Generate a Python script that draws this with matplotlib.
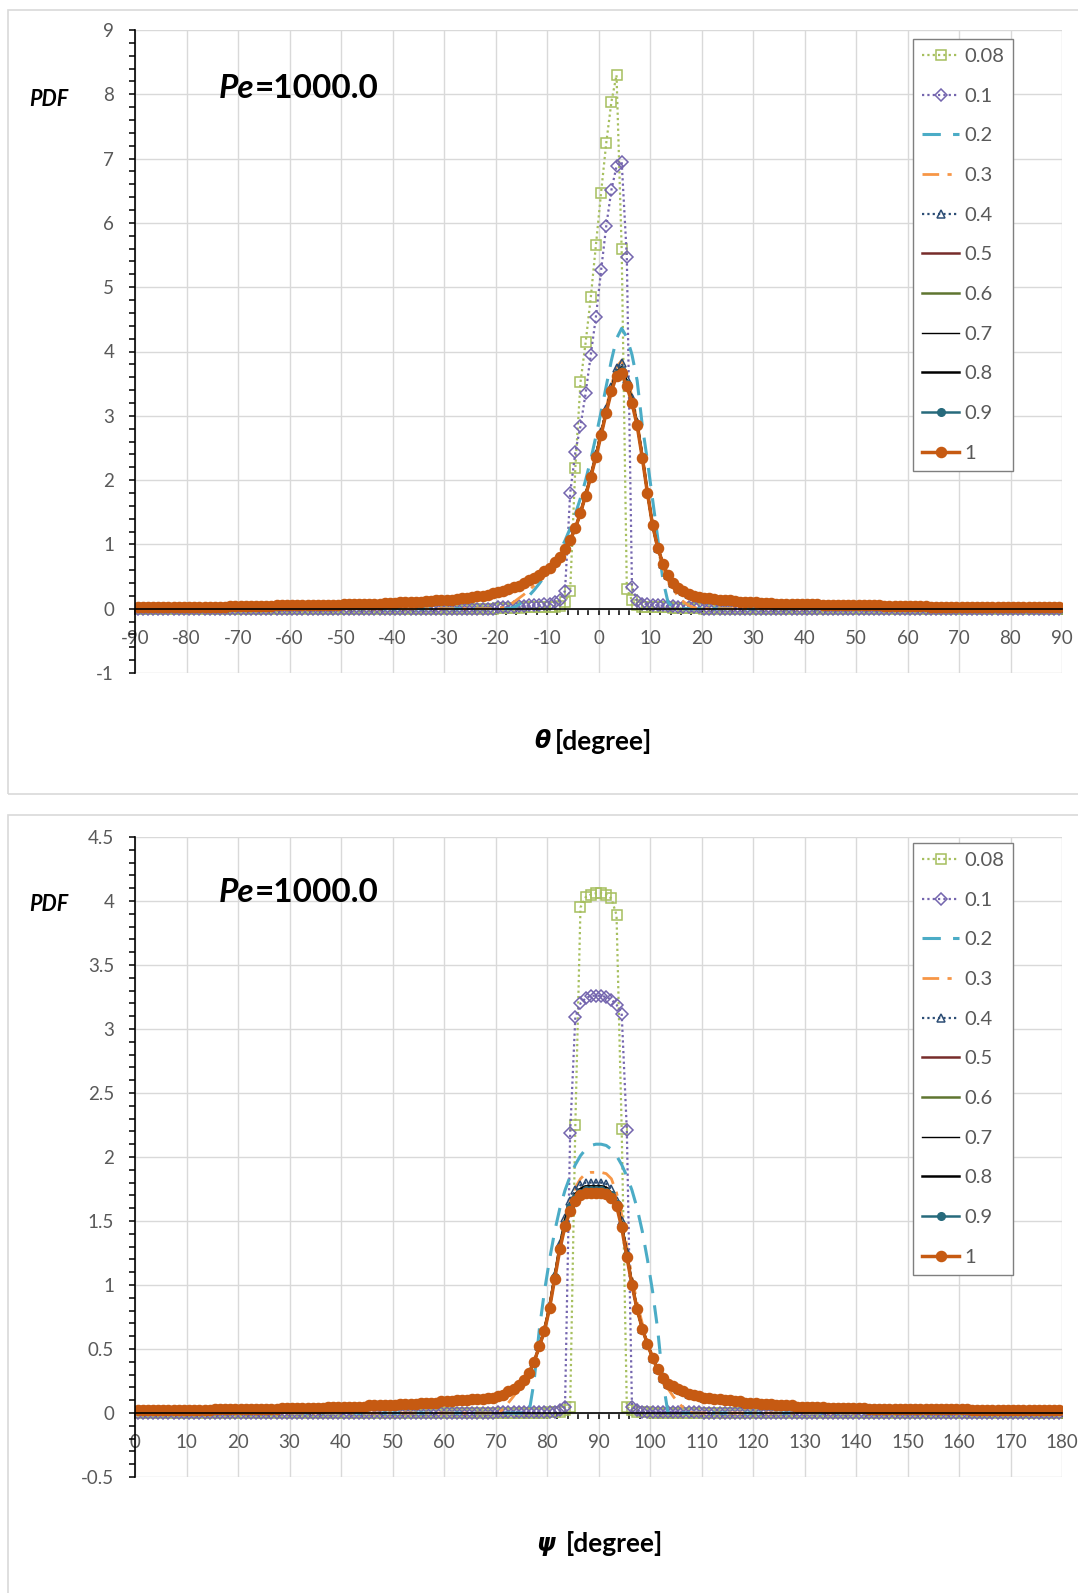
import numpy as np
import matplotlib
matplotlib.use("Agg")
import matplotlib.pyplot as plt
from matplotlib.patches import Rectangle
from matplotlib.ticker import MultipleLocator, FuncFormatter

W, H = 1078, 1593
plt.rcParams['font.family'] = ['Lato', 'DejaVu Sans']

labels = ['0.08', '0.1', '0.2', '0.3', '0.4', '0.5', '0.6', '0.7', '0.8', '0.9', '1']

# angle grids (bin centres)
theta = np.arange(-89.5, 90.0, 1.0)
psi = np.arange(0.5, 180.0, 1.0)

zeros70 = [0.0] * 70

# ---------------- theta panel: tails (-89.5..-20.5, 20.5..89.5) ----------------
th_tail_left = [0.03, 0.03, 0.03, 0.03, 0.03, 0.03, 0.03, 0.03, 0.03, 0.03,
                0.03, 0.03, 0.03, 0.03, 0.03, 0.03, 0.03, 0.03, 0.04, 0.04,
                0.04, 0.04, 0.04, 0.04, 0.04, 0.04, 0.04, 0.05, 0.05, 0.05,
                0.05, 0.05, 0.05, 0.05, 0.06, 0.06, 0.06, 0.06, 0.06, 0.06,
                0.07, 0.07, 0.07, 0.07, 0.08, 0.08, 0.08, 0.08, 0.09, 0.09,
                0.09, 0.10, 0.10, 0.10, 0.11, 0.11, 0.12, 0.12, 0.13, 0.13,
                0.14, 0.14, 0.15, 0.16, 0.17, 0.18, 0.19, 0.20, 0.22, 0.24]
th_tail_right = [0.17, 0.16, 0.15, 0.14, 0.13, 0.13, 0.12, 0.11, 0.11, 0.10,
                 0.10, 0.09, 0.09, 0.09, 0.08, 0.08, 0.08, 0.08, 0.07, 0.07,
                 0.07, 0.07, 0.07, 0.06, 0.06, 0.06, 0.06, 0.06, 0.05, 0.05,
                 0.05, 0.05, 0.05, 0.05, 0.05, 0.04, 0.04, 0.04, 0.04, 0.04,
                 0.04, 0.04, 0.04, 0.04, 0.03, 0.03, 0.03, 0.03, 0.03, 0.03,
                 0.03, 0.03, 0.03, 0.03, 0.03, 0.03, 0.03, 0.03, 0.03, 0.03,
                 0.03, 0.03, 0.03, 0.02, 0.02, 0.02, 0.02, 0.02, 0.02, 0.02]

# theta panel: core (-19.5..19.5)
th_core_008 = [0.01, 0.01, 0.01, 0.01, 0.01, 0.02, 0.02, 0.02, 0.02, 0.02,
               0.03, 0.03, 0.04, 0.10, 0.28, 2.19, 3.52, 4.14, 4.84, 5.65,
               6.47, 7.24, 7.88, 8.30, 5.59, 0.31, 0.13, 0.05, 0.03, 0.03,
               0.02, 0.02, 0.02, 0.02, 0.01, 0.01, 0.01, 0.01, 0.01, 0.01]
th_core_01 = [0.02, 0.02, 0.03, 0.03, 0.04, 0.04, 0.05, 0.05, 0.06, 0.07,
              0.08, 0.10, 0.13, 0.28, 1.80, 2.43, 2.84, 3.35, 3.95, 4.54,
              5.26, 5.95, 6.51, 6.88, 6.95, 5.47, 0.34, 0.12, 0.08, 0.07,
              0.06, 0.05, 0.05, 0.04, 0.04, 0.03, 0.03, 0.02, 0.02, 0.02]
th_core_02 = [0.00, 0.00, 0.00, 0.02, 0.06, 0.12, 0.20, 0.29, 0.39, 0.50,
              0.62, 0.75, 0.90, 1.06, 1.25, 1.47, 1.72, 2.00, 2.32, 2.68,
              3.06, 3.46, 3.86, 4.20, 4.36, 4.22, 3.95, 3.55, 2.85, 2.30,
              1.70, 1.10, 0.45, 0.10, 0.02, 0.00, 0.00, 0.00, 0.00, 0.00]
th_core_03 = [0.00, 0.02, 0.05, 0.10, 0.16, 0.22, 0.29, 0.36, 0.44, 0.52,
              0.61, 0.71, 0.82, 0.95, 1.09, 1.27, 1.50, 1.78, 2.08, 2.40,
              2.76, 3.12, 3.47, 3.76, 3.86, 3.62, 3.30, 2.92, 2.40, 1.82,
              1.30, 0.92, 0.64, 0.44, 0.30, 0.19, 0.11, 0.05, 0.02, 0.00]
th_core_04 = [0.26, 0.28, 0.31, 0.33, 0.36, 0.40, 0.44, 0.48, 0.53, 0.58,
              0.64, 0.72, 0.81, 0.93, 1.07, 1.25, 1.50, 1.78, 2.08, 2.40,
              2.75, 3.10, 3.45, 3.74, 3.82, 3.58, 3.27, 2.90, 2.38, 1.82,
              1.31, 0.95, 0.70, 0.52, 0.40, 0.32, 0.27, 0.23, 0.20, 0.18]
th_core_mid = [0.26, 0.28, 0.31, 0.33, 0.36, 0.40, 0.44, 0.48, 0.53, 0.58,
               0.64, 0.72, 0.81, 0.93, 1.07, 1.25, 1.49, 1.77, 2.06, 2.38,
               2.72, 3.07, 3.41, 3.68, 3.75, 3.53, 3.24, 2.88, 2.37, 1.81,
               1.30, 0.95, 0.70, 0.52, 0.40, 0.32, 0.27, 0.23, 0.20, 0.18]
th_core_09 = [0.26, 0.28, 0.31, 0.33, 0.36, 0.40, 0.44, 0.48, 0.53, 0.58,
              0.64, 0.72, 0.81, 0.93, 1.07, 1.25, 1.49, 1.76, 2.05, 2.37,
              2.71, 3.06, 3.39, 3.65, 3.70, 3.49, 3.22, 2.86, 2.36, 1.80,
              1.30, 0.95, 0.70, 0.52, 0.40, 0.32, 0.27, 0.23, 0.20, 0.18]
th_core_1 = [0.26, 0.28, 0.31, 0.33, 0.36, 0.40, 0.44, 0.48, 0.53, 0.58,
             0.64, 0.72, 0.81, 0.93, 1.07, 1.25, 1.49, 1.76, 2.05, 2.36,
             2.70, 3.05, 3.38, 3.62, 3.66, 3.46, 3.20, 2.85, 2.35, 1.80,
             1.30, 0.95, 0.70, 0.52, 0.40, 0.32, 0.27, 0.23, 0.20, 0.18]

# ---------------- psi panel: tails (0.5..69.5, 110.5..179.5) ----------------
ps_tail_left = [0.02, 0.02, 0.02, 0.02, 0.02, 0.02, 0.02, 0.02, 0.02, 0.02,
                0.02, 0.02, 0.02, 0.02, 0.02, 0.03, 0.03, 0.03, 0.03, 0.03,
                0.03, 0.03, 0.03, 0.03, 0.03, 0.03, 0.03, 0.03, 0.04, 0.04,
                0.04, 0.04, 0.04, 0.04, 0.04, 0.04, 0.04, 0.05, 0.05, 0.05,
                0.05, 0.05, 0.05, 0.05, 0.05, 0.06, 0.06, 0.06, 0.06, 0.06,
                0.06, 0.07, 0.07, 0.07, 0.07, 0.08, 0.08, 0.08, 0.08, 0.09,
                0.09, 0.09, 0.10, 0.10, 0.10, 0.11, 0.11, 0.11, 0.12, 0.12]
ps_tail_right = [0.12, 0.12, 0.11, 0.11, 0.10, 0.10, 0.09, 0.09, 0.08, 0.08,
                 0.08, 0.07, 0.07, 0.07, 0.06, 0.06, 0.06, 0.06, 0.05, 0.05,
                 0.05, 0.05, 0.05, 0.05, 0.04, 0.04, 0.04, 0.04, 0.04, 0.04,
                 0.04, 0.04, 0.03, 0.03, 0.03, 0.03, 0.03, 0.03, 0.03, 0.03,
                 0.03, 0.03, 0.03, 0.03, 0.03, 0.03, 0.03, 0.03, 0.03, 0.03,
                 0.03, 0.03, 0.02, 0.02, 0.02, 0.02, 0.02, 0.02, 0.02, 0.02,
                 0.02, 0.02, 0.02, 0.02, 0.02, 0.02, 0.02, 0.02, 0.02, 0.02]

# psi panel: core (70.5..109.5)
ps_core_008 = [0.00, 0.00, 0.00, 0.00, 0.00, 0.00, 0.00, 0.00, 0.00, 0.00,
               0.01, 0.01, 0.01, 0.02, 0.05, 2.25, 3.95, 4.03, 4.05, 4.06,
               4.06, 4.05, 4.02, 3.89, 2.22, 0.05, 0.02, 0.01, 0.01, 0.01,
               0.00, 0.00, 0.00, 0.00, 0.00, 0.00, 0.00, 0.00, 0.00, 0.00]
ps_core_01 = [0.01, 0.01, 0.01, 0.01, 0.01, 0.01, 0.01, 0.01, 0.01, 0.01,
              0.01, 0.01, 0.02, 0.05, 2.19, 3.09, 3.20, 3.24, 3.26, 3.26,
              3.26, 3.25, 3.23, 3.19, 3.12, 2.21, 0.05, 0.02, 0.01, 0.01,
              0.01, 0.01, 0.01, 0.01, 0.01, 0.01, 0.01, 0.01, 0.01, 0.01]
ps_core_02 = [0.00, 0.00, 0.00, 0.00, 0.00, 0.00, 0.00, 0.25, 0.65, 0.95,
              1.20, 1.42, 1.60, 1.74, 1.85, 1.94, 2.01, 2.06, 2.09, 2.10,
              2.10, 2.09, 2.06, 2.01, 1.94, 1.85, 1.74, 1.60, 1.42, 1.20,
              0.95, 0.65, 0.25, 0.00, 0.00, 0.00, 0.00, 0.00, 0.00, 0.00]
ps_core_03 = [0.00, 0.03, 0.08, 0.13, 0.19, 0.25, 0.32, 0.41, 0.53, 0.66,
              0.84, 1.07, 1.31, 1.52, 1.66, 1.76, 1.83, 1.87, 1.88, 1.88,
              1.88, 1.87, 1.83, 1.72, 1.55, 1.30, 1.06, 0.86, 0.70, 0.56,
              0.44, 0.34, 0.26, 0.19, 0.13, 0.08, 0.04, 0.01, 0.00, 0.00]
ps_core_04 = [0.13, 0.14, 0.17, 0.19, 0.22, 0.26, 0.31, 0.40, 0.52, 0.65,
              0.84, 1.08, 1.32, 1.52, 1.66, 1.74, 1.78, 1.80, 1.80, 1.80,
              1.80, 1.79, 1.75, 1.66, 1.50, 1.26, 1.02, 0.82, 0.66, 0.54,
              0.43, 0.34, 0.27, 0.23, 0.21, 0.19, 0.17, 0.15, 0.14, 0.13]
ps_core_mid = [0.13, 0.14, 0.17, 0.19, 0.22, 0.26, 0.31, 0.40, 0.52, 0.65,
               0.83, 1.07, 1.30, 1.50, 1.63, 1.71, 1.75, 1.77, 1.77, 1.77,
               1.77, 1.76, 1.72, 1.64, 1.48, 1.24, 1.01, 0.81, 0.66, 0.54,
               0.43, 0.34, 0.27, 0.23, 0.21, 0.19, 0.17, 0.15, 0.14, 0.13]
ps_core_09 = [0.13, 0.14, 0.17, 0.19, 0.22, 0.26, 0.31, 0.40, 0.52, 0.64,
              0.82, 1.06, 1.29, 1.48, 1.61, 1.68, 1.72, 1.74, 1.74, 1.74,
              1.74, 1.73, 1.70, 1.63, 1.46, 1.23, 1.00, 0.81, 0.66, 0.54,
              0.43, 0.34, 0.27, 0.23, 0.21, 0.19, 0.17, 0.15, 0.14, 0.13]
ps_core_1 = [0.13, 0.14, 0.17, 0.19, 0.22, 0.26, 0.31, 0.40, 0.52, 0.64,
             0.82, 1.05, 1.28, 1.46, 1.58, 1.66, 1.70, 1.72, 1.72, 1.72,
             1.72, 1.71, 1.68, 1.62, 1.45, 1.22, 1.00, 0.81, 0.66, 0.54,
             0.43, 0.34, 0.27, 0.23, 0.21, 0.19, 0.17, 0.15, 0.14, 0.13]


def build(left, core, right):
    return np.concatenate([left, core, right])


theta_series = [
    build(zeros70, th_core_008, zeros70),
    build(zeros70, th_core_01, zeros70),
    build(zeros70, th_core_02, zeros70),
    build(zeros70, th_core_03, zeros70),
    build(th_tail_left, th_core_04, th_tail_right),
    build(th_tail_left, th_core_mid, th_tail_right),
    build(th_tail_left, th_core_mid, th_tail_right),
    build(th_tail_left, th_core_mid, th_tail_right),
    build(th_tail_left, th_core_mid, th_tail_right),
    build(th_tail_left, th_core_09, th_tail_right),
    build(th_tail_left, th_core_1, th_tail_right),
]
psi_series = [
    build(zeros70, ps_core_008, zeros70),
    build(zeros70, ps_core_01, zeros70),
    build(zeros70, ps_core_02, zeros70),
    build(zeros70, ps_core_03, zeros70),
    build(ps_tail_left, ps_core_04, ps_tail_right),
    build(ps_tail_left, ps_core_mid, ps_tail_right),
    build(ps_tail_left, ps_core_mid, ps_tail_right),
    build(ps_tail_left, ps_core_mid, ps_tail_right),
    build(ps_tail_left, ps_core_mid, ps_tail_right),
    build(ps_tail_left, ps_core_09, ps_tail_right),
    build(ps_tail_left, ps_core_1, ps_tail_right),
]

dot = (0, (1, 1.4))
styles = [
    dict(color='#A6BF5E', ls=dot, lw=1.6, marker='s', ms=7.5, mfc='none', mew=1.1),
    dict(color='#7465AE', ls=dot, lw=1.6, marker='D', ms=6.3, mfc='none', mew=1.1),
    dict(color='#4BACC6', ls=(0, (6, 4)), lw=2.2),
    dict(color='#F79646', ls=(0, (6, 3, 1.5, 3)), lw=2.0),
    dict(color='#2C4D75', ls=dot, lw=1.6, marker='^', ms=6, mfc='none', mew=1.1),
    dict(color='#772C2A', ls='-', lw=1.8),
    dict(color='#5F7530', ls='-', lw=1.8),
    dict(color='black', ls='-', lw=1.0),
    dict(color='black', ls='-', lw=1.8),
    dict(color='#276A7C', ls='-', lw=1.8, marker='o', ms=5.5),
    dict(color='#C65A12', ls='-', lw=2.5, marker='o', ms=7.3),
]

fig = plt.figure(figsize=(W / 100, H / 100), dpi=100)


def fx(px):
    return px / W


def fy(py):
    return 1 - py / H


# panel frames
for top, bot in [(10, 794), (815, H + 5)]:
    fig.patches.append(Rectangle((fx(8), fy(bot)), 1.2, (bot - top) / H,
                                 transform=fig.transFigure, fill=False,
                                 ec='#D9D9D9', lw=1.2))


def panel(rect, x, series, xlim, ylim, ymaj, ymin, leg_top, pe_y):
    ax = fig.add_axes(rect)
    for y, lab, st in zip(series, labels, styles):
        ax.plot(x, y, label=lab, **st)
    ax.set_xlim(*xlim)
    ax.set_ylim(*ylim)
    ax.xaxis.set_major_locator(MultipleLocator(10))
    ax.xaxis.set_minor_locator(MultipleLocator(2))
    ax.yaxis.set_major_locator(MultipleLocator(ymaj))
    ax.yaxis.set_minor_locator(MultipleLocator(ymin))
    ax.yaxis.set_major_formatter(FuncFormatter(lambda v, p: '{:g}'.format(round(v, 3))))
    ax.xaxis.set_major_formatter(FuncFormatter(lambda v, p: '{:g}'.format(round(v, 3))))
    ax.grid(True, which='major', color='#D9D9D9', lw=1.0)
    ax.set_axisbelow(True)
    for s in ['top', 'right']:
        ax.spines[s].set_visible(False)
    ax.spines['bottom'].set_position(('data', 0))
    ax.spines['left'].set_linewidth(1.2)
    ax.spines['bottom'].set_linewidth(1.2)
    ax.tick_params(which='both', direction='out', length=4, width=1.1, color='black',
                   labelsize=13.5, labelcolor='#595959')
    ax.tick_params(axis='x', which='both', pad=11)
    ax.tick_params(axis='y', which='both', pad=11)
    ax.set_facecolor('white')

    leg = ax.legend(loc='upper left', bbox_to_anchor=(fx(913), fy(leg_top)),
                    bbox_transform=fig.transFigure, borderaxespad=0,
                    fancybox=False, edgecolor='#7F7F7F', framealpha=1,
                    fontsize=14.5, handlelength=1.85, handletextpad=0.25,
                    labelspacing=1.12, borderpad=0.45, numpoints=1)
    leg.get_frame().set_linewidth(1.0)
    for t in leg.get_texts():
        t.set_color('#595959')

    # PDF label and Pe annotation
    fig.text(fx(49), fy(pe_y + 11), 'PDF', fontsize=15.5, fontweight='bold',
             fontstyle='italic', ha='center', va='center')
    t1 = fig.text(fx(219), fy(pe_y), 'Pe', fontsize=24, fontweight='bold',
                  fontstyle='italic', ha='left', va='center')
    fig.canvas.draw()
    bb = t1.get_window_extent()
    fig.text(bb.x1 / fig.bbox.width, fy(pe_y), '=1000.0', fontsize=24,
             fontweight='bold', ha='left', va='center')
    return ax


panel([fx(135), fy(673), fx(1062) - fx(135), (673 - 30) / H], theta, theta_series,
      (-90, 90), (-1, 9), 1, 0.2, 39, 89)
panel([fx(135), fy(1477), fx(1062) - fx(135), (1477 - 837) / H], psi, psi_series,
      (0, 180), (-0.5, 4.5), 0.5, 0.1, 843, 893)

# x axis titles
fig.text(fx(551), fy(741), '\u03b8', family='DejaVu Sans', fontsize=17,
         fontweight='bold', fontstyle='italic', ha='right', va='center')
fig.text(fx(555), fy(741), '[degree]', fontsize=19, fontweight='bold',
         ha='left', va='center')
fig.text(fx(555), fy(1544), '\u03c8', family='DejaVu Sans', fontsize=17,
         fontweight='bold', fontstyle='italic', ha='right', va='center')
fig.text(fx(566), fy(1544), '[degree]', fontsize=19, fontweight='bold',
         ha='left', va='center')

fig.savefig('out.png', dpi=100)
